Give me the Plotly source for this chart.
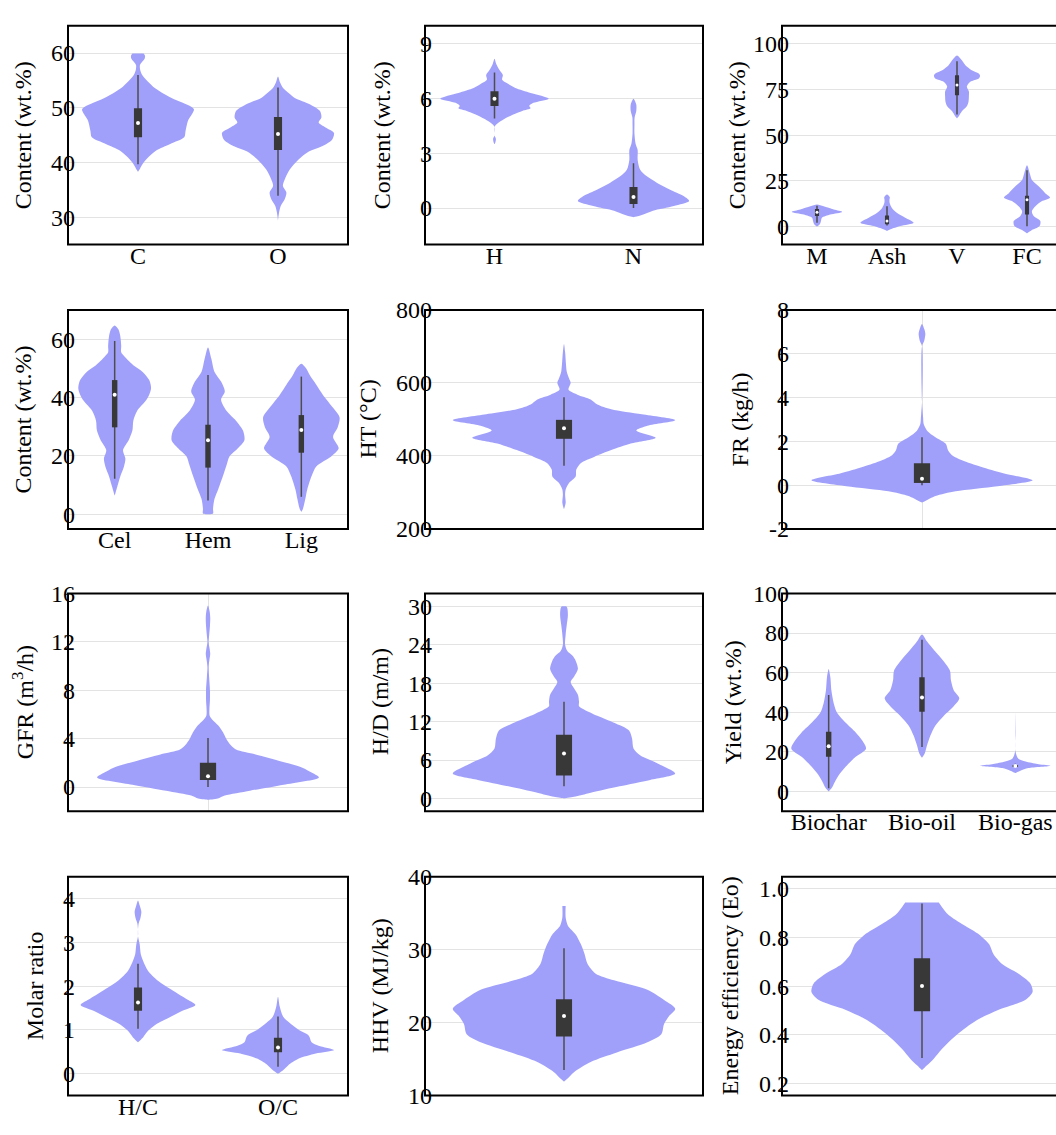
import plotly.graph_objects as go

# ---------------------------------------------------------------------------
# Violin outlines: y positions (top -> bottom) and half-widths in category units,
# box statistics as [lower whisker, q1, median, q3, upper whisker]
# ---------------------------------------------------------------------------
C_y = [59.9, 59.5, 59.0, 58.4, 57.8, 57.0, 56.0, 54.8, 53.6, 52.6, 51.8, 50.9, 50.2, 49.7,
       48.8, 47.8, 47.0, 45.8, 44.6, 43.4, 42.2, 41.0, 39.8, 38.9, 38.3]
C_w = [0.04, 0.05, 0.048, 0.03, 0.014, 0.015, 0.03, 0.07, 0.12, 0.18, 0.24, 0.32, 0.38, 0.40,
       0.385, 0.36, 0.35, 0.34, 0.33, 0.23, 0.13, 0.075, 0.035, 0.015, 0.0]
C_box = [39.7, 44.6, 47.2, 49.9, 56.0]

O_y = [55.7, 54.6, 53.6, 52.6, 51.8, 50.6, 49.4, 48.2, 47.3, 46.4, 45.4, 44.1, 42.9, 42.0,
       40.5, 38.7, 36.9, 35.7, 34.5, 33.3, 32.1, 30.9, 29.4]
O_w = [0.0, 0.015, 0.036, 0.08, 0.12, 0.23, 0.30, 0.31, 0.29, 0.34, 0.40, 0.385, 0.31, 0.22,
       0.145, 0.084, 0.048, 0.035, 0.06, 0.048, 0.02, 0.008, 0.0]
O_box = [33.9, 42.3, 45.2, 48.3, 53.7]

H_y = [8.19, 7.92, 7.57, 7.30, 7.03, 6.80, 6.58, 6.31, 6.0, 5.77, 5.6, 5.47, 5.33, 5.15,
       4.88, 4.60, 4.45, 4.1, 3.98, 3.8, 3.6, 3.5]
H_w = [0.0, 0.012, 0.036, 0.06, 0.055, 0.1, 0.15, 0.26, 0.39, 0.28, 0.25, 0.26, 0.2, 0.14,
       0.07, 0.015, 0.0, 0.0, 0.0, 0.01, 0.006, 0.0]
H_box = [4.91, 5.6, 6.0, 6.4, 7.44]

N_y = [6.0, 5.68, 5.33, 4.97, 4.61, 4.07, 3.53, 3.18, 2.64, 2.1, 1.74, 1.38, 1.02, 0.66,
       0.39, 0.12, -0.14, -0.35, -0.45, -0.5]
N_w = [0.0, 0.02, 0.02, 0.008, 0.007, 0.007, 0.015, 0.03, 0.03, 0.048, 0.096, 0.17, 0.26, 0.36,
       0.40, 0.29, 0.14, 0.07, 0.03, 0.0]
N_box = [0.0, 0.22, 0.61, 1.15, 2.46]

M_y = [12.0, 11.0, 9.2, 7.9, 6.5, 4.7, 2.9, 1.1, -0.2]
M_w = [0.0, 0.095, 0.24, 0.36, 0.19, 0.07, 0.057, 0.04, 0.0]
M_box = [2.0, 5.6, 7.7, 9.5, 11.3]

Ash_y = [17.5, 16.0, 14.5, 12.8, 10.1, 7.4, 4.7, 2.0, 0.2, -1.6, -2.5]
Ash_w = [0.0, 0.04, 0.035, 0.038, 0.07, 0.14, 0.26, 0.38, 0.19, 0.05, 0.0]
Ash_box = [0.5, 1.1, 2.9, 5.9, 11.0]

V_y = [93.7, 91.0, 88.3, 85.6, 83.8, 82.6, 81.1, 79.3, 76.6, 73.9, 71.2, 68.5, 65.8, 63.1,
       60.4, 59.2]
V_w = [0.0, 0.07, 0.12, 0.21, 0.31, 0.33, 0.31, 0.19, 0.14, 0.17, 0.17, 0.165, 0.14, 0.07,
       0.025, 0.0]
V_box = [61.3, 71.8, 77.5, 82.9, 90.5]

FC_y = [33.5, 29.0, 25.4, 21.8, 18.2, 15.8, 13.7, 11.0, 8.3, 5.6, 2.9, 0.2, -2.0, -3.8]
FC_w = [0.0, 0.04, 0.07, 0.17, 0.26, 0.33, 0.21, 0.12, 0.07, 0.095, 0.19, 0.18, 0.07, 0.0]
FC_box = [0.0, 6.5, 14.6, 16.7, 30.8]

Cel_y = [64.7, 63.4, 61.1, 57.8, 55.5, 53.9, 51.1, 48.8, 46.0, 43.2, 41.0, 38.8, 35.4, 32.1,
         28.7, 25.4, 22.0, 19.0, 16.4, 13.0, 9.7, 7.5, 6.4]
Cel_w = [0.0, 0.04, 0.06, 0.07, 0.07, 0.11, 0.2, 0.30, 0.37, 0.39, 0.37, 0.33, 0.24, 0.2,
         0.19, 0.15, 0.09, 0.115, 0.1, 0.06, 0.03, 0.01, 0.0]
Cel_box = [12.2, 29.8, 41.0, 46.0, 59.4]

Hem_y = [57.2, 53.3, 48.8, 45.5, 42.1, 39.3, 35.4, 32.1, 28.7, 25.4, 22.6, 19.8, 17.0, 13.1,
         8.6, 5.3, 1.9, 0.3, 0.0]
Hem_w = [0.0, 0.036, 0.07, 0.14, 0.18, 0.14, 0.2, 0.30, 0.375, 0.39, 0.32, 0.23, 0.2, 0.16,
         0.11, 0.07, 0.054, 0.054, 0.0]
Hem_box = [4.7, 16.0, 25.4, 30.7, 47.7]

Lig_y = [51.6, 49.9, 47.7, 44.4, 41.0, 36.5, 33.2, 29.8, 26.5, 22.6, 19.8, 16.4, 13.1, 8.6,
         5.3, 1.9, 0.8]
Lig_w = [0.0, 0.054, 0.09, 0.16, 0.23, 0.34, 0.41, 0.39, 0.34, 0.40, 0.32, 0.16, 0.11, 0.064,
         0.043, 0.018, 0.0]
Lig_box = [6.0, 21.1, 28.9, 34.0, 47.2]

HT_y = [707, 685, 631, 613, 600, 582, 568, 555, 541, 528, 514, 498, 483, 470, 450, 434, 416,
        398, 380, 362, 344, 326, 308, 294, 272, 254]
HT_w = [0.0, 0.004, 0.01, 0.018, 0.024, 0.016, 0.048, 0.096, 0.12, 0.17, 0.28, 0.40, 0.30,
        0.26, 0.33, 0.24, 0.17, 0.11, 0.06, 0.044, 0.042, 0.018, 0.006, 0.004, 0.006, 0.0]
HT_box = [373, 447, 476, 499, 561]

FR_y = [7.36, 7.13, 6.91, 6.6, 6.35, 3.8, 3.24, 3.09, 2.79, 2.49, 2.19, 1.89, 1.59, 1.37,
        1.14, 0.84, 0.54, 0.22, -0.05, -0.28, -0.5, -0.73, -0.8]
FR_w = [0.0, 0.008, 0.012, 0.008, 0.0, 0.0, 0.003, 0.004, 0.006, 0.018, 0.048, 0.085, 0.093,
        0.107, 0.143, 0.21, 0.29, 0.395, 0.27, 0.12, 0.048, 0.012, 0.0]
FR_box = [0.0, 0.1, 0.29, 1.0, 2.19]

GFR_y = [15.0, 14.5, 14.0, 13.3, 12.5, 12.0, 11.4, 11.0, 10.5, 9.9, 9.1, 8.0, 7.2, 6.4, 5.9,
         5.5, 5.1, 4.5, 4.0, 3.5, 3.1, 2.7, 2.1, 1.6, 1.2, 0.8, 0.2, -0.3, -0.7, -0.95, -1.06]
GFR_w = [0.0, 0.006, 0.008, 0.007, 0.004, 0.002, 0.006, 0.008, 0.005, 0.002, 0.004, 0.007,
         0.007, 0.005, 0.006, 0.018, 0.036, 0.054, 0.065, 0.08, 0.1, 0.17, 0.265, 0.337, 0.37,
         0.396, 0.27, 0.15, 0.06, 0.035, 0.0]
GFR_box = [0.0, 0.58, 0.9, 2.0, 4.06]

HD_y = [30.0, 29.7, 28.6, 27.1, 25.6, 24.0, 23.0, 22.3, 21.5, 20.2, 19.0, 18.2, 17.2, 16.2,
        15.1, 14.4, 13.9, 12.9, 11.8, 10.6, 9.3, 7.8, 6.7, 5.5, 3.9, 2.9, 1.9, 0.9, 0.25, 0.0]
HD_w = [0.008, 0.012, 0.014, 0.01, 0.006, 0.004, 0.012, 0.03, 0.042, 0.05, 0.036, 0.024,
        0.036, 0.05, 0.054, 0.054, 0.072, 0.12, 0.18, 0.234, 0.245, 0.25, 0.275, 0.335, 0.40,
        0.31, 0.2, 0.096, 0.036, 0.0]
HD_box = [1.9, 3.6, 7.0, 9.95, 15.1]

Biochar_y = [61.8, 57.7, 51.1, 44.6, 39.7, 34.8, 29.8, 25.7, 21.6, 17.5, 13.4, 9.3, 5.2, 2.0, 0.0]
Biochar_w = [0.0, 0.018, 0.029, 0.054, 0.09, 0.18, 0.29, 0.36, 0.40, 0.29, 0.2, 0.125, 0.07,
             0.036, 0.0]
Biochar_box = [1.6, 17.5, 22.8, 30.2, 48.7]

Biooil_y = [79.3, 75.7, 70.8, 65.9, 61.0, 56.1, 51.1, 47.0, 43.0, 38.0, 33.1, 28.2, 23.3,
            19.2, 17.0]
Biooil_w = [0.0, 0.054, 0.14, 0.23, 0.30, 0.31, 0.34, 0.40, 0.34, 0.23, 0.14, 0.09, 0.054,
            0.029, 0.0]
Biooil_box = [22.5, 40.2, 47.5, 57.7, 76.6]

Biogas_y = [39.7, 30.0, 20.0, 16.7, 15.1, 13.8, 13.0, 11.8, 10.5, 9.3]
Biogas_w = [0.0, 0.002, 0.003, 0.03, 0.11, 0.25, 0.38, 0.14, 0.054, 0.0]
Biogas_box = [12.0, 12.3, 12.8, 13.4, 14.0]

HC_y = [3.96, 3.85, 3.70, 3.55, 3.44, 3.30, 3.14, 2.96, 2.73, 2.58, 2.36, 2.13, 1.92, 1.72,
        1.57, 1.43, 1.28, 1.13, 0.98, 0.83, 0.72]
HC_w = [0.0, 0.012, 0.024, 0.017, 0.005, 0.0, 0.0, 0.012, 0.02, 0.036, 0.07, 0.14, 0.24, 0.34,
        0.41, 0.31, 0.22, 0.13, 0.072, 0.036, 0.0]
HC_box = [1.03, 1.44, 1.63, 1.97, 2.51]

OC_y = [1.76, 1.54, 1.31, 1.16, 1.01, 0.87, 0.72, 0.64, 0.54, 0.46, 0.34, 0.19, 0.08, 0.0]
OC_w = [0.0, 0.012, 0.036, 0.084, 0.145, 0.22, 0.24, 0.29, 0.40, 0.27, 0.145, 0.072, 0.036, 0.0]
OC_box = [0.16, 0.49, 0.60, 0.82, 1.31]

HHV_y = [36.0, 34.4, 33.3, 32.1, 30.8, 29.4, 28.1, 26.7, 25.8, 24.5, 23.1, 21.9, 20.9, 19.8,
         18.4, 17.3, 15.9, 14.6, 13.2, 12.3, 11.9]
HHV_w = [0.006, 0.006, 0.014, 0.042, 0.06, 0.074, 0.084, 0.114, 0.18, 0.30, 0.36, 0.40, 0.378,
         0.36, 0.35, 0.30, 0.19, 0.096, 0.036, 0.012, 0.0]
HHV_box = [13.5, 18.1, 20.9, 23.2, 30.2]

Eo_y = [0.944, 0.926, 0.893, 0.852, 0.812, 0.772, 0.732, 0.691, 0.651, 0.611, 0.577, 0.544,
        0.503, 0.463, 0.423, 0.383, 0.342, 0.302, 0.275, 0.255]
Eo_w = [0.06, 0.071, 0.095, 0.149, 0.205, 0.24, 0.255, 0.286, 0.345, 0.387, 0.395, 0.37,
        0.274, 0.2, 0.149, 0.107, 0.071, 0.042, 0.018, 0.0]
Eo_box = [0.305, 0.497, 0.601, 0.715, 0.94]

# Axis tick values per panel
T1 = [30, 40, 50, 60]
T2 = [0, 3, 6, 9]
T3 = [0, 25, 50, 75, 100]
T4 = [0, 20, 40, 60]
T5 = [200, 400, 600, 800]
T6 = [-2, 0, 2, 4, 6, 8]
T7 = [0, 4, 8, 12, 16]
T8 = [0, 6, 12, 18, 24, 30]
T9 = [0, 20, 40, 60, 80, 100]
T10 = [0, 1, 2, 3, 4]
T11 = [10, 20, 30, 40]
T12 = [0.2, 0.4, 0.6, 0.8, 1.0]

# ---------------------------------------------------------------------------
# Style
# ---------------------------------------------------------------------------
VIOLIN_FILL = "#a0a0fa"
BOX_FILL = "#383838"
WHISKER = "#4d4d4d"
GRID = "#e3e3e3"
FONT = "Liberation Serif"
FS = 24
W, H = 1056, 1135
COLS = [(68, 348), (425, 703), (782, 1062)]
ROWS = [(13, 237), (304, 528), (594, 817), (884, 1108)]
BOX_HALF = 0.029

panels = [
    dict(cats=["C", "O"], v=[(C_y, C_w, C_box), (O_y, O_w, O_box)],
         yr=(25, 65), ticks=T1, fmt="{:g}", title="Content (wt.%)", tx=23),
    dict(cats=["H", "N"], v=[(H_y, H_w, H_box), (N_y, N_w, N_box)],
         yr=(-2, 10), ticks=T2, fmt="{:g}", title="Content (wt.%)", tx=382),
    dict(cats=["M", "Ash", "V", "FC"],
         v=[(M_y, M_w, M_box), (Ash_y, Ash_w, Ash_box), (V_y, V_w, V_box), (FC_y, FC_w, FC_box)],
         yr=(-10, 110), ticks=T3, fmt="{:g}", title="Content (wt.%)", tx=737),
    dict(cats=["Cel", "Hem", "Lig"],
         v=[(Cel_y, Cel_w, Cel_box), (Hem_y, Hem_w, Hem_box), (Lig_y, Lig_w, Lig_box)],
         yr=(-5, 70), ticks=T4, fmt="{:g}", title="Content (wt.%)", tx=23),
    dict(cats=None, v=[(HT_y, HT_w, HT_box)],
         yr=(200, 800), ticks=T5, fmt="{:g}", title="HT (°C)", tx=368),
    dict(cats=None, v=[(FR_y, FR_w, FR_box)], xgrid=True,
         yr=(-2, 8), ticks=T6, fmt="{:g}", title="FR (kg/h)", tx=740),
    dict(cats=None, v=[(GFR_y, GFR_w, GFR_box)], xgrid=True,
         yr=(-2, 16), ticks=T7, fmt="{:g}", title="GFR (m<sup>3</sup>/h)", tx=23),
    dict(cats=None, v=[(HD_y, HD_w, HD_box)],
         yr=(-2, 32), ticks=T8, fmt="{:g}", title="H/D (m/m)", tx=380),
    dict(cats=["Biochar", "Bio-oil", "Bio-gas"],
         v=[(Biochar_y, Biochar_w, Biochar_box), (Biooil_y, Biooil_w, Biooil_box),
            (Biogas_y, Biogas_w, Biogas_box)],
         yr=(-10, 100), ticks=T9, fmt="{:g}", title="Yield (wt.%)", tx=733),
    dict(cats=["H/C", "O/C"], v=[(HC_y, HC_w, HC_box), (OC_y, OC_w, OC_box)],
         yr=(-0.5, 4.5), ticks=T10, fmt="{:g}", title="Molar ratio", tx=35),
    dict(cats=None, v=[(HHV_y, HHV_w, HHV_box)],
         yr=(10, 40), ticks=T11, fmt="{:g}", title="HHV (MJ/kg)", tx=380),
    dict(cats=None, v=[(Eo_y, Eo_w, Eo_box)],
         yr=(0.15, 1.05), ticks=T12, fmt="{:.1f}", title="Energy efficiency (Eo)", tx=730),
]

fig = go.Figure()
layout = dict(
    width=W, height=H, margin=dict(l=0, r=0, t=0, b=0),
    paper_bgcolor="white", plot_bgcolor="white", showlegend=False,
    font=dict(family=FONT, size=FS, color="black"),
)
shapes, annotations = [], []

for k, p in enumerate(panels):
    r, c = divmod(k, 3)
    (x0, x1), (y0, y1) = COLS[c], ROWS[r]
    n = len(p["v"])
    xlo, xhi = -0.5, n - 0.5
    # the right column runs past the page edge; keep the same px-per-unit scale
    vis_x1 = min(x1, W)
    xhi_vis = xlo + (xhi - xlo) * (vis_x1 - x0) / (x1 - x0)
    sfx = "" if k == 0 else str(k + 1)
    xa, ya = "x" + sfx, "y" + sfx

    for i, (vy, vw, bx) in enumerate(p["v"]):
        xs = [i + w for w in vw] + [i - w for w in reversed(vw)]
        ys = list(vy) + list(reversed(vy))
        fig.add_trace(go.Scatter(x=xs, y=ys, xaxis=xa, yaxis=ya, mode="lines",
                                 fill="toself", fillcolor=VIOLIN_FILL,
                                 line=dict(width=0, shape="spline", smoothing=0.8),
                                 hoverinfo="skip"))
        lo, q1, med, q3, hi = bx
        fig.add_trace(go.Scatter(x=[i, i], y=[lo, hi], xaxis=xa, yaxis=ya, mode="lines",
                                 line=dict(color=WHISKER, width=1.5), hoverinfo="skip"))
        fig.add_trace(go.Scatter(x=[i - BOX_HALF, i + BOX_HALF, i + BOX_HALF, i - BOX_HALF],
                                 y=[q1, q1, q3, q3], xaxis=xa, yaxis=ya, mode="lines",
                                 fill="toself", fillcolor=BOX_FILL, line=dict(width=0),
                                 hoverinfo="skip"))
        fig.add_trace(go.Scatter(x=[i], y=[med], xaxis=xa, yaxis=ya, mode="markers",
                                 marker=dict(color="white", size=4 if n < 4 else 3),
                                 hoverinfo="skip"))

    xaxis = dict(
        domain=[x0 / W, vis_x1 / W], range=[xlo, xhi_vis], anchor=ya,
        tickvals=list(range(n)), ticks="", showline=False, zeroline=False,
        showgrid=bool(p.get("xgrid")), gridcolor=GRID, gridwidth=1,
        tickfont=dict(family=FONT, size=FS, color="black"), ticklabelstandoff=-6,
    )
    if p["cats"]:
        xaxis["ticktext"] = p["cats"]
    else:
        xaxis["showticklabels"] = False
    layout["xaxis" + sfx] = xaxis
    layout["yaxis" + sfx] = dict(
        domain=[1 - y1 / H, 1 - y0 / H], range=list(p["yr"]), anchor=xa,
        tickvals=p["ticks"], ticktext=[p["fmt"].format(t) for t in p["ticks"]],
        ticks="", showline=False, zeroline=False, showgrid=True,
        gridcolor=GRID, gridwidth=1, ticklabelstandoff=-8,
        tickfont=dict(family=FONT, size=FS, color="black"),
    )
    shapes.append(dict(type="rect", xref="paper", yref="paper",
                       x0=x0 / W, x1=x1 / W, y0=1 - y1 / H, y1=1 - y0 / H,
                       line=dict(color="black", width=2), fillcolor="rgba(0,0,0,0)",
                       layer="above"))
    annotations.append(dict(text=p["title"], xref="paper", yref="paper",
                            x=p["tx"] / W, y=1 - (y0 + y1) / 2 / H, textangle=-90,
                            showarrow=False, xanchor="center", yanchor="middle",
                            font=dict(family=FONT, size=FS, color="black")))

layout["shapes"] = shapes
layout["annotations"] = annotations
fig.update_layout(**layout)
fig.write_html("out.html")
